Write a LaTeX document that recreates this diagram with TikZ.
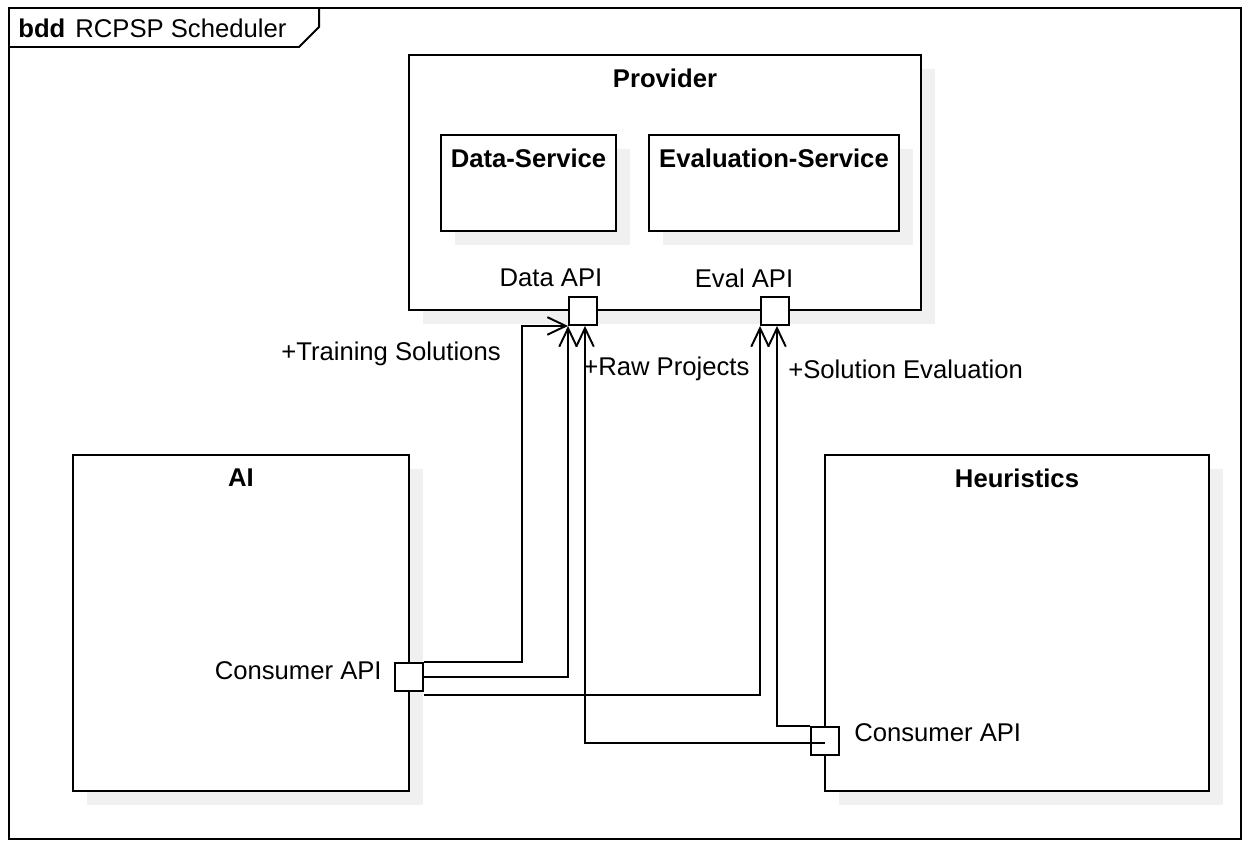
\documentclass[tikz,border=0pt]{standalone}
\usepackage{fontspec}
\setmainfont{Liberation Sans}
\usetikzlibrary{arrows.meta,fit,shadows}
\definecolor{shadowgray}{HTML}{F0F0F0}
\tikzset{
    blk/.style={draw, fill=white, line width=1.1pt, inner sep=0pt,
        drop shadow={shadow xshift=0.28cm, shadow yshift=-0.28cm, fill=shadowgray, opacity=1}},
    port/.style={draw, fill=white, line width=1.1pt, minimum size=0.56cm, inner sep=0pt},
    ttl/.style={font=\fontsize{14.6pt}{17pt}\selectfont\bfseries, yshift=-0.48cm},
    lbl/.style={inner sep=0pt},
    conn/.style={line width=1.1pt, -{Straight Barb[length=10.5pt, width=10pt]}},
}
\begin{document}
\begin{tikzpicture}[x=0.02cm, y=-0.02cm, font=\fontsize{14.6pt}{17pt}\selectfont]
    \useasboundingbox (0, 0) rectangle (1251, 847);
    % frame
    \node[draw, line width=1.1pt, inner sep=0pt, fit={(9, 8) (1241, 839)}] (frame) {};
    \draw[line width=1.1pt] ([yshift=-0.8cm]frame.north west) -- ++(291, 0) -- ++(20, -20) -- ++(0, -20);
    \node[lbl, anchor=west] (bdd) at (18, 28) {\textbf{bdd}\hspace{0.2cm}RCPSP Scheduler};
    % provider
    \node[blk, fit={(409, 55) (921, 310)}] (prov) {};
    \node[ttl] at (prov.north) {Provider};
    \node[blk, fit={(441, 135) (616, 231)}] (dsvc) {};
    \node[ttl] at (dsvc.north) {Data-Service};
    \node[blk, fit={(649, 135) (899, 231)}] (esvc) {};
    \node[ttl] at (esvc.north) {Evaluation-Service};
    % consumers
    \node[blk, fit={(73, 455) (409, 791)}] (ai) {};
    \node[ttl] at (ai.north) {AI};
    \node[blk, fit={(825, 455) (1209, 791)}] (heur) {};
    \node[ttl] at (heur.north) {Heuristics};
    % ports
    \node[port] (dap) at (583, 311) {};
    \node[port] (eap) at (775, 311) {};
    \node[port] (aip) at (409, 677) {};
    \node[port] (hp) at (825, 741) {};
    \node[lbl] (daplbl) at (551, 278) {Data API};
    \node[lbl] (eaplbl) at (744, 278) {Eval API};
    \node[lbl, anchor=east] (aiplbl) at (382, 671) {Consumer API};
    \node[lbl, anchor=west] (hplbl) at (854, 733) {Consumer API};
    % connectors
    \draw[conn] (aip.north east) -- ++(98, 0) |- (dap.south west);
    \draw[conn] (aip.east) -| (dap.south west);
    \draw[conn] ([yshift=-0.06cm]aip.south east) -| (eap.south west);
    \draw[conn] ([yshift=-0.04cm]hp.center) -| ([xshift=0.04cm]dap.south);
    \draw[conn] (hp.north west) -| ([xshift=0.04cm]eap.south);
    \node[lbl, anchor=east] (tslbl) at (501, 354) {+Training Solutions};
    \node[lbl, anchor=west] (rplbl) at (583, 369) {+Raw Projects};
    \node[lbl, anchor=west] (selbl) at (788, 369) {+Solution Evaluation};
\end{tikzpicture}
\end{document}
